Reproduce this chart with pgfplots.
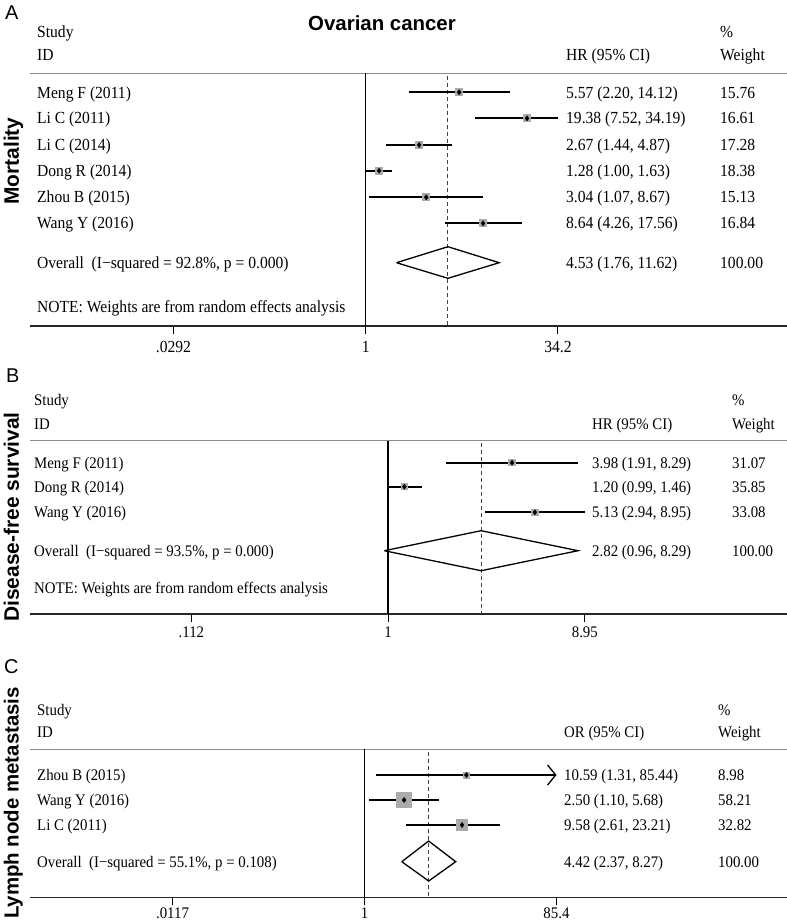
\documentclass[border=0pt]{standalone}
\usepackage{fontspec}
\setmainfont{Liberation Serif}[FakeStretch=0.92]
\setsansfont{Liberation Sans}
\usepackage{pgfplots}
\pgfplotsset{compat=1.18}
\usetikzlibrary{arrows.meta}

\newcommand{\fs}[1]{\fontsize{#1}{#1}\selectfont}
\newcommand{\T}[3]{\node[anchor=base west, inner sep=0pt] at (#1bp,-#2bp) {#3};}

\pgfplotsset{
  fpaxis/.style={
    scale only axis, width=757bp, clip=false,
    anchor=south west,
    axis y line=none, axis x line*=bottom,
    axis line style={black!85, line width=1.1bp},
    tick align=outside, major tick length=8bp, minor tick length=0pt,
    xtick style={black, line width=1bp},
    xticklabel style={inner sep=2bp},
  },
  ci/.style={black, line width=1.9bp, forget plot},
  sq/.style={only marks, mark=square*, mark options={fill=black!33, draw=black!33, line width=0pt}, forget plot},
  pt/.style={only marks, mark=diamond*, mark size=2.6bp, mark options={fill=black, draw=black}, forget plot},
  ref/.style={black, line width=1.2bp, forget plot},
  dsh/.style={black!75, dashed, dash pattern=on 4bp off 3bp, line width=0.9bp, forget plot},
  hdr/.style={black!45, line width=1.1bp, forget plot},
  dia/.style={black, line width=1.3bp, line join=miter, forget plot},
}

\begin{document}
\begin{tikzpicture}
\useasboundingbox (0,0) rectangle (787bp,-922bp);

% ---------------- Panel A ----------------
\begin{axis}[xmode=log, fpaxis, at={(30bp,-326bp)}, height=253bp,
  ymin=-326, ymax=-73, xmin=0.002094, xmax=2302,
  xtick={0.0292,1,34.2}, xticklabels={.0292,1,34.2},
  xticklabel style={font=\fs{17}, yshift=-5bp}]
\addplot[hdr] coordinates {(0.002094,-73.3) (2302,-73.3)};
\addplot[ref] coordinates {(1,-73.3) (1,-326)};
\addplot[dsh] coordinates {(4.53,-76) (4.53,-326)};
\addplot[sq, mark size=3.5bp] coordinates {(5.57,-92.3) (19.38,-118.3) (2.67,-145) (1.28,-170.7) (3.04,-197.3) (8.64,-223.3)};
\addplot[ci] coordinates {(2.20,-92.3) (14.12,-92.3)};
\addplot[ci] coordinates {(7.52,-118.3) (34.19,-118.3)};
\addplot[ci] coordinates {(1.44,-145) (4.87,-145)};
\addplot[ci] coordinates {(1.00,-170.7) (1.63,-170.7)};
\addplot[ci] coordinates {(1.07,-197.3) (8.67,-197.3)};
\addplot[ci] coordinates {(4.26,-223.3) (17.56,-223.3)};
\addplot[pt] coordinates {(5.57,-92.3) (19.38,-118.3) (2.67,-145) (1.28,-170.7) (3.04,-197.3) (8.64,-223.3)};
\addplot[dia] coordinates {(1.76,-262.7) (4.53,-246.7) (11.62,-262.7) (4.53,-278.3) (1.76,-262.7)};
\end{axis}

% ---------------- Panel B ----------------
\begin{axis}[xmode=log, fpaxis, at={(30bp,-614bp)}, height=173.3bp,
  ymin=-614, ymax=-440.7, xmin=0.01857, xmax=85.0,
  xtick={0.112,1,8.95}, xticklabels={.112,1,8.95},
  xticklabel style={font=\fs{16.2}, yshift=-3bp}]
\addplot[hdr] coordinates {(0.01857,-440.7) (85.0,-440.7)};
\addplot[ref] coordinates {(1,-440.7) (1,-614)};
\addplot[dsh] coordinates {(2.82,-443) (2.82,-614)};
\addplot[sq, mark size=3.2bp] coordinates {(3.98,-462.7) (1.20,-486.7) (5.13,-512.3)};
\addplot[ci] coordinates {(1.91,-462.7) (8.29,-462.7)};
\addplot[ci] coordinates {(0.99,-486.7) (1.46,-486.7)};
\addplot[ci] coordinates {(2.94,-512.3) (8.95,-512.3)};
\addplot[pt] coordinates {(3.98,-462.7) (1.20,-486.7) (5.13,-512.3)};
\addplot[dia] coordinates {(0.96,-550.7) (2.82,-530.7) (8.29,-550.7) (2.82,-570.7) (0.96,-550.7)};
\end{axis}

% ---------------- Panel C ----------------
\begin{axis}[xmode=log, fpaxis, at={(30bp,-897.3bp)}, height=148bp,
  ymin=-897.3, ymax=-749.3, xmin=0.000431, xmax=17810,
  xtick={0.0117,1,85.4}, xticklabels={.0117,1,85.4},
  xticklabel style={font=\fs{16.2}, yshift=-0.5bp}]
\addplot[hdr] coordinates {(0.000431,-749.3) (17810,-749.3)};
\addplot[ref] coordinates {(1,-749.3) (1,-897.3)};
\addplot[dsh] coordinates {(4.42,-752) (4.42,-897.3)};
\addplot[sq, mark size=3.0bp] coordinates {(10.59,-775)};
\addplot[sq, mark size=7.6bp] coordinates {(2.50,-800)};
\addplot[sq, mark size=5.7bp] coordinates {(9.58,-825)};
\addplot[ci, -{Straight Barb[length=8bp, width=20bp, line width=1.3bp]}] coordinates {(1.31,-775) (85.4,-775)};
\addplot[ci] coordinates {(1.10,-800) (5.68,-800)};
\addplot[ci] coordinates {(2.61,-825) (23.21,-825)};
\addplot[pt] coordinates {(10.59,-775) (2.50,-800) (9.58,-825)};
\addplot[dia] coordinates {(2.37,-861.7) (4.42,-841) (8.27,-861.7) (4.42,-881) (2.37,-861.7)};
\end{axis}

% ---------------- Texts A ----------------
\node[anchor=base west, inner sep=0pt, font=\sffamily\fs{20}] at (5bp,-19.3bp) {A};
\node[anchor=base, inner sep=0pt, font=\sffamily\bfseries\fs{20.5}] at (382bp,-30.7bp) {Ovarian cancer};
\node[anchor=base, inner sep=0pt, rotate=90, font=\sffamily\bfseries\fs{21}] at (18.8bp,-161bp) {Mortality};
\begingroup\fs{17}
\T{37}{37}{Study}
\T{37}{60.7}{ID}
\T{566}{60.7}{HR (95\% CI)}
\T{720}{37}{\%}
\T{720}{60.7}{Weight}
\T{37}{98.0}{Meng F (2011)}\T{566}{98.0}{5.57 (2.20, 14.12)}\T{720}{98.0}{15.76}
\T{37}{123.9}{Li C (2011)}\T{566}{123.9}{19.38 (7.52, 34.19)}\T{720}{123.9}{16.61}
\T{37}{150.6}{Li C (2014)}\T{566}{150.6}{2.67 (1.44, 4.87)}\T{720}{150.6}{17.28}
\T{37}{176.3}{Dong R (2014)}\T{566}{176.3}{1.28 (1.00, 1.63)}\T{720}{176.3}{18.38}
\T{37}{202.9}{Zhou B (2015)}\T{566}{202.9}{3.04 (1.07, 8.67)}\T{720}{202.9}{15.13}
\T{37}{228.9}{Wang Y (2016)}\T{566}{228.9}{8.64 (4.26, 17.56)}\T{720}{228.9}{16.84}
\T{37}{268.3}{Overall\ \ (I−squared = 92.8\%, p = 0.000)}\T{566}{268.3}{4.53 (1.76, 11.62)}\T{720}{268.3}{100.00}
\T{37}{312}{NOTE: Weights are from random effects analysis}
\endgroup

% ---------------- Texts B ----------------
\node[anchor=base west, inner sep=0pt, font=\sffamily\fs{20}] at (6bp,-382bp) {B};
\node[anchor=base, inner sep=0pt, rotate=90, font=\sffamily\bfseries\fs{21}] at (18.8bp,-517bp) {Disease-free survival};
\begingroup\fs{16.2}
\T{34}{405.4}{Study}
\T{34}{429.4}{ID}
\T{592}{429.4}{HR (95\% CI)}
\T{732}{405.4}{\%}
\T{732}{429.4}{Weight}
\T{34}{468.1}{Meng F (2011)}\T{592}{468.1}{3.98 (1.91, 8.29)}\T{732}{468.1}{31.07}
\T{34}{492.1}{Dong R (2014)}\T{592}{492.1}{1.20 (0.99, 1.46)}\T{732}{492.1}{35.85}
\T{34}{517.7}{Wang Y (2016)}\T{592}{517.7}{5.13 (2.94, 8.95)}\T{732}{517.7}{33.08}
\T{34}{556.1}{Overall\ \ (I−squared = 93.5\%, p = 0.000)}\T{592}{556.1}{2.82 (0.96, 8.29)}\T{732}{556.1}{100.00}
\T{34}{593.7}{NOTE: Weights are from random effects analysis}
\endgroup

% ---------------- Texts C ----------------
\node[anchor=base west, inner sep=0pt, font=\sffamily\fs{20}] at (4bp,-673bp) {C};
\node[anchor=base, inner sep=0pt, rotate=90, font=\sffamily\bfseries\fs{20.5}] at (18.5bp,-803bp) {Lymph node metastasis};
\begingroup\fs{16.2}
\T{37}{715.4}{Study}
\T{37}{737.7}{ID}
\T{564}{737.7}{OR (95\% CI)}
\T{718}{715.4}{\%}
\T{718}{737.7}{Weight}
\T{37}{780.4}{Zhou B (2015)}\T{564}{780.4}{10.59 (1.31, 85.44)}\T{718}{780.4}{8.98}
\T{37}{805.4}{Wang Y (2016)}\T{564}{805.4}{2.50 (1.10, 5.68)}\T{718}{805.4}{58.21}
\T{37}{830.4}{Li C (2011)}\T{564}{830.4}{9.58 (2.61, 23.21)}\T{718}{830.4}{32.82}
\T{37}{867.1}{Overall\ \ (I−squared = 55.1\%, p = 0.108)}\T{564}{867.1}{4.42 (2.37, 8.27)}\T{718}{867.1}{100.00}
\endgroup
\end{tikzpicture}
\end{document}
